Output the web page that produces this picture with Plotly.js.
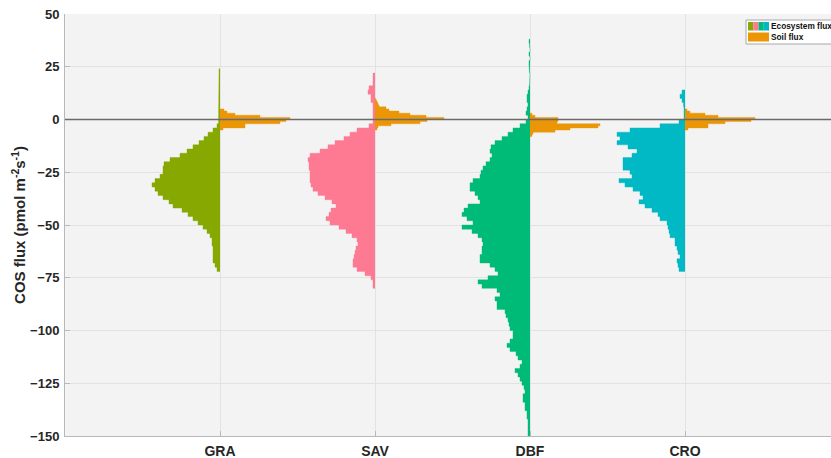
<!DOCTYPE html>
<html>
<head>
<meta charset="utf-8">
<script src="https://cdn.plot.ly/plotly-3.0.1.min.js"></script>
<style>
html,body{margin:0;padding:0;overflow:hidden;background:#fff;}
#chart{width:845px;height:458px;}
</style>
</head>
<body>
<div id="chart"></div>
<script>
// ---------- DATA ----------
const categories = ["GRA", "SAV", "DBF", "CRO"];
const ecoColors = ["#86a800", "#fd7a92", "#00bb78", "#00b9c5"];
const soilColor = "#eb9606";

// Ecosystem flux histograms: 2-unit bins listed from the top edge downward (relative frequency)
const ecoBin = 2;
const ecoTop = [24, 22, 38, 14];
const ecoGRA = [1,1,1,1,1,1,1,1,1,1,1,1, 1.5,3,7,12,16,21,27,33,40,50,56,57,57,60,65,68,65,62,57,51,47,38,32,27,22,17,13,10,8,8,7,7,7,7,5,3];
const ecoSAV = [2,2,2,6,7,4,4,2,2,2,2, 2,6,18,25,31,40,47,55,65,67,66,66,65,65,65,64,62,57,50,43,39,44,46,49,45,36,29,23,18,17,19,20,21,22,22,18,10,4,2,2];
const ecoDBF = [1,0.5,0,1,0,1,1,0.5,0,0.5,0.5,1,2,3,3,2,3,4,2,
  4,10,17,22,28,35,39,40,38,40,44,47,49,50,57,60,60,55,52,50,62,66,68,63,57,68,58,52,48,47,48,48,50,50,40,35,32,42,52,48,33,30,35,33,33,25,24,22,21,20,17,17,20,23,20,14,12,8,10,15,12,10,8,6,5,7,7,5,5,3,3,2,2,2,2];
const ecoCRO = [3,5,3,1.5,1,1,1, 6,25,55,68,65,68,57,48,53,62,62,62,55,53,66,60,52,45,42,46,40,33,27,25,18,17,16,15,10,10,8,7,5,8,7,6];

// Soil flux histograms: 1-unit bins listed from the top edge downward (relative frequency)
const soilBin = 1;
const soilTop = [5, 10, 3, 5];
const soilGRA = [4,7,15,40,70,66,60,25,25,3];
const soilSAV = [1,2,3,4,11,14,24,35,51,69,52,45,16,3,2];
const soilDBF = [2,5,28,28,27,70,68,40,25,3,2];
const soilCRO = [2,5,20,33,70,66,40,23,23,3];

const ecoData = [ecoGRA, ecoSAV, ecoDBF, ecoCRO];
const soilData = [soilGRA, soilSAV, soilDBF, soilCRO];

const yTicks = [50, 25, 0, -25, -50, -75, -100, -125, -150];

// ---------- CHART ----------
const freqScale = 1 / 155; // relative frequency -> category-axis units

// half-violin histogram drawn as one stepped filled outline (no seams between bins)
function histTrace(counts, top, bin, catPos, sign, color) {
  const xs = [catPos], ys = [top];
  counts.forEach((c, k) => {
    const xv = catPos + sign * c * freqScale;
    xs.push(xv, xv);
    ys.push(top - bin * k, top - bin * (k + 1));
  });
  xs.push(catPos);
  ys.push(top - bin * counts.length);
  return {
    type: "scatter", mode: "lines",
    x: xs, y: ys,
    fill: "toself", fillcolor: color,
    line: {width: 0.4, color: color},
    hoverinfo: "skip", showlegend: false
  };
}

const traces = [];
categories.forEach((cat, i) => {
  traces.push(histTrace(ecoData[i], ecoTop[i], ecoBin, i + 1, -1, ecoColors[i]));
  traces.push(histTrace(soilData[i], soilTop[i], soilBin, i + 1, 1, soilColor));
});

// plot-area pixel helpers for the hand-drawn legend
const L = 65, T = 14, W = 775, H = 422;
const px = v => (v - L) / W;
const py = v => (T + H - v) / H;

const shapes = [
  {type: "line", xref: "paper", yref: "y", x0: 0, x1: 1, y0: 0, y1: 0,
   line: {color: "#6a6a6a", width: 1.6}, layer: "above"},
  {type: "rect", xref: "paper", yref: "paper", x0: px(746), x1: px(860), y0: py(20), y1: py(44),
   fillcolor: "#ffffff", line: {color: "#a8a8a8", width: 1}, layer: "above"}
];
const swW = 21 / 4;
ecoColors.forEach((c, i) => {
  shapes.push({type: "rect", xref: "paper", yref: "paper",
    x0: px(748 + i * swW), x1: px(748 + (i + 1) * swW), y0: py(22), y1: py(30.5),
    fillcolor: c, line: {width: 0}, layer: "above"});
});
shapes.push({type: "rect", xref: "paper", yref: "paper",
  x0: px(748), x1: px(769), y0: py(32.5), y1: py(41.5),
  fillcolor: soilColor, line: {width: 0}, layer: "above"});

const legFont = {family: "Liberation Sans, Arial", size: 8.3, color: "#111", weight: "bold"};
const annotations = [
  {xref: "paper", yref: "paper", x: px(769), y: py(26.3), xanchor: "left", yanchor: "middle",
   text: "Ecosystem flux", showarrow: false, font: legFont},
  {xref: "paper", yref: "paper", x: px(769), y: py(37), xanchor: "left", yanchor: "middle",
   text: "Soil flux", showarrow: false, font: legFont}
];

const layout = {
  width: 845, height: 458,
  margin: {l: L, r: 845 - L - W, t: T, b: 458 - T - H, pad: 0},
  paper_bgcolor: "#ffffff",
  plot_bgcolor: "#f3f3f3",
  showlegend: false,
  font: {family: "Liberation Sans, Arial", color: "#262626"},
  xaxis: {
    range: [0, 5], tickvals: [1, 2, 3, 4], ticktext: categories,
    showgrid: true, gridcolor: "#e2e2e2", gridwidth: 1,
    zeroline: false, showline: true, linecolor: "#b8b8b8", linewidth: 1,
    ticks: "inside", ticklen: 5, tickcolor: "#b8b8b8",
    tickfont: {size: 14, weight: "bold", color: "#262626"},
    ticklabelstandoff: 2, fixedrange: true
  },
  yaxis: {
    range: [-150, 50], tickvals: yTicks,
    showgrid: true, gridcolor: "#e2e2e2", gridwidth: 1,
    zeroline: false, showline: true, linecolor: "#b8b8b8", linewidth: 1,
    ticks: "inside", ticklen: 5, tickcolor: "#b8b8b8",
    tickfont: {size: 13, weight: "bold", color: "#262626"},
    ticklabelstandoff: 2,
    title: {text: "COS flux (pmol m<sup>-2</sup>s<sup>-1</sup>)", standoff: 0,
            font: {size: 15, weight: "bold", color: "#262626"}},
    fixedrange: true
  },
  shapes: shapes,
  annotations: annotations
};

Plotly.newPlot("chart", traces, layout, {displayModeBar: false, staticPlot: true});
</script>
</body>
</html>
